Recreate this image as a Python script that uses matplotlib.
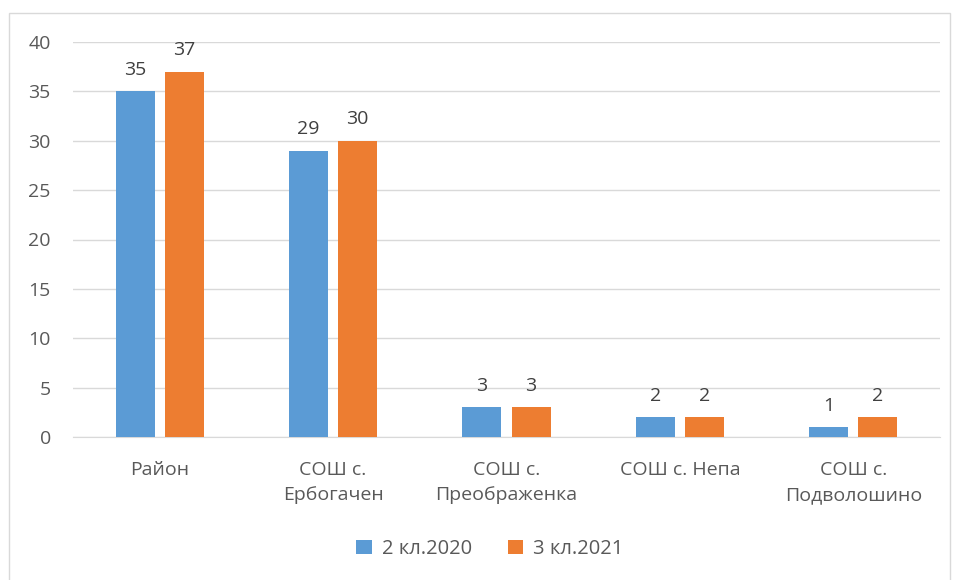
import matplotlib
matplotlib.use("Agg")
import matplotlib.pyplot as plt
import numpy as np
from matplotlib.patches import Rectangle

categories = ["Район", "СОШ с.\nЕрбогачен", "СОШ с.\nПреображенка", "СОШ с. Непа", "СОШ с.\nПодволошино"]
series_names = ["2 кл.2020", "3 кл.2021"]
values_2020 = [35, 29, 3, 2, 1]
values_2021 = [37, 30, 3, 2, 2]
colors = ["#5B9BD5", "#ED7D31"]

plt.rcParams['font.family'] = ['Open Sans', 'DejaVu Sans']
txt = "#595959"
fs = 14

fig = plt.figure(figsize=(9.55, 5.8), dpi=100)
ax = fig.add_axes([73/955, 1-437/580, (940-73)/955, (437-42)/580])

x = np.arange(len(categories))
w = 0.225
off = 0.142
b1 = ax.bar(x - off, values_2020, w, color=colors[0], label=series_names[0], zorder=3)
b2 = ax.bar(x + off, values_2021, w, color=colors[1], label=series_names[1], zorder=3)
for bars in (b1, b2):
    ax.bar_label(bars, padding=9, fontsize=fs, color="#404040")

ax.set_xlim(-0.5, len(categories) - 0.5)
ax.set_ylim(0, 40)
ax.set_yticks(range(0, 41, 5))
ax.yaxis.grid(True, color="#D9D9D9", linewidth=1, zorder=0)
for s in ["top", "right", "left"]:
    ax.spines[s].set_visible(False)
ax.spines["bottom"].set_color("#D9D9D9")
ax.tick_params(axis="both", length=0, labelsize=fs, labelcolor=txt)
ax.tick_params(axis="y", pad=16)
ax.tick_params(axis="x", pad=17)
ax.set_xticks(x)
ax.set_xticklabels(categories, linespacing=1.55)

fig.legend(loc="center", bbox_to_anchor=(490/955, 1-549/580), ncol=2, frameon=False,
           fontsize=fs + 0.5, labelcolor=txt, handlelength=0.75, handleheight=0.75,
           columnspacing=1.8, handletextpad=0.5)

fig.patches.append(Rectangle((9/955, -0.05), (950-9)/955, 1-13/580+0.05, transform=fig.transFigure,
                             fill=False, edgecolor="#D9D9D9", linewidth=1))

fig.savefig("out.png", dpi=100)
